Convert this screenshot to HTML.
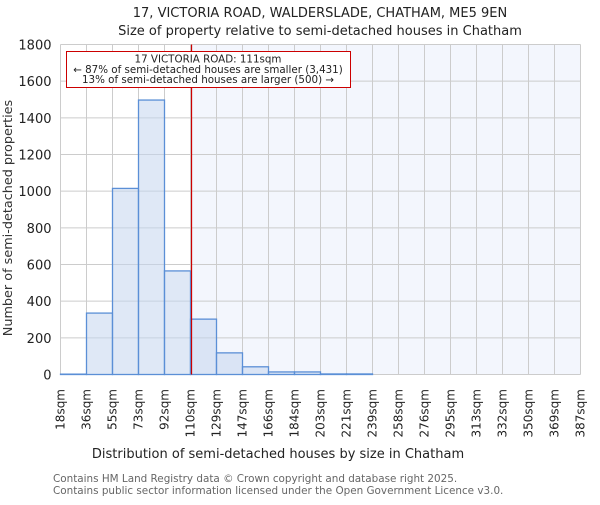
<!DOCTYPE html>
<html><head><meta charset="utf-8"><style>
body{margin:0;background:#fff}
svg text{font-family:"DejaVu Sans","Liberation Sans",sans-serif}
</style></head><body>
<svg id="chart" width="600" height="500" xmlns="http://www.w3.org/2000/svg">
<text x="320" y="17" font-size="13" text-anchor="middle" fill="#222">17, VICTORIA ROAD, WALDERSLADE, CHATHAM, ME5 9EN</text>
<text x="320" y="35" font-size="13" text-anchor="middle" fill="#222">Size of property relative to semi-detached houses in Chatham</text>
<g id="grid"></g><g id="bars"></g><g id="ticks"></g>
<text transform="translate(12,218) rotate(-90)" font-size="12.8" text-anchor="middle" fill="#333">Number of semi-detached properties</text>
<text x="278" y="458" font-size="13" text-anchor="middle" fill="#222">Distribution of semi-detached houses by size in Chatham</text>
<text x="53" y="482" font-size="10.4" fill="#666">Contains HM Land Registry data © Crown copyright and database right 2025.</text>
<text x="53" y="494" font-size="10.4" fill="#666">Contains public sector information licensed under the Open Government Licence v3.0.</text>
</svg>
<script>
const binLabels=["18sqm","36sqm","55sqm","73sqm","92sqm","110sqm","129sqm","147sqm","166sqm","184sqm","203sqm","221sqm","239sqm","258sqm","276sqm","295sqm","313sqm","332sqm","350sqm","369sqm","387sqm"];
const counts=[2,335,1015,1497,565,302,118,42,14,14,3,3,0,0,0,0,0,0,0,0];
const yTicks=[0,200,400,600,800,1000,1200,1400,1600,1800];
const propertyBinPos=5.04;
const ns="http://www.w3.org/2000/svg";
const X0=60.5,X1=580.5,Y0=374.5,Y1=44.5,YMAX=1800;
const n=counts.length;
const xs=i=>X0+(X1-X0)*i/n;
const ys=v=>Y0-(Y0-Y1)*v/YMAX;
function mk(tag,attrs,parent){const e=document.createElementNS(ns,tag);for(const k in attrs)e.setAttribute(k,attrs[k]);parent.appendChild(e);return e;}
const svg=document.getElementById('chart');
const grid=document.getElementById('grid'),bars=document.getElementById('bars'),ticks=document.getElementById('ticks');
const px=xs(propertyBinPos);
let r=mk('rect',{x:px,y:Y1,width:X1-px,height:Y0-Y1,fill:'#f3f6fd'},grid);


for(let i=0;i<=n;i++){let l=mk('line',{x1:xs(i),x2:xs(i),y1:Y1,y2:Y0,stroke:'#ccc','stroke-width':1},grid);

}
yTicks.forEach(v=>{let l=mk('line',{x1:X0,x2:X1,y1:ys(v),y2:ys(v),stroke:'#ccc','stroke-width':1},grid);


let t=mk('text',{x:X0-9,y:ys(v)+5,'font-size':13,'text-anchor':'end',fill:'#222'},ticks);t.textContent=v;

});
counts.forEach((c,i)=>{if(c<=0)return;let b=mk('rect',{x:xs(i),y:ys(c),width:xs(i+1)-xs(i),height:Y0-ys(c),fill:'rgba(196,214,238,0.55)',stroke:'#5b8fd6','stroke-width':1.3},bars);

});
binLabels.forEach((s,i)=>{let t=mk('text',{transform:`translate(${xs(i)+4},389) rotate(-90)`,'font-size':12,'text-anchor':'end',fill:'#222'},ticks);t.textContent=s;

});
let pl=mk('line',{x1:px,x2:px,y1:Y1,y2:Y0,stroke:'#c00','stroke-width':1.2},svg);


let box=mk('rect',{x:66.5,y:51.5,width:284,height:36,fill:'#fff',stroke:'#c00','stroke-width':1},svg);


["17 VICTORIA ROAD: 111sqm","← 87% of semi-detached houses are smaller (3,431)","13% of semi-detached houses are larger (500) →"].forEach((s,i)=>{let t=mk('text',{x:208,y:62.5+i*10.3,'font-size':10.3,'text-anchor':'middle',fill:'#222'},svg);t.textContent=s;

});
</script>
</body></html>
